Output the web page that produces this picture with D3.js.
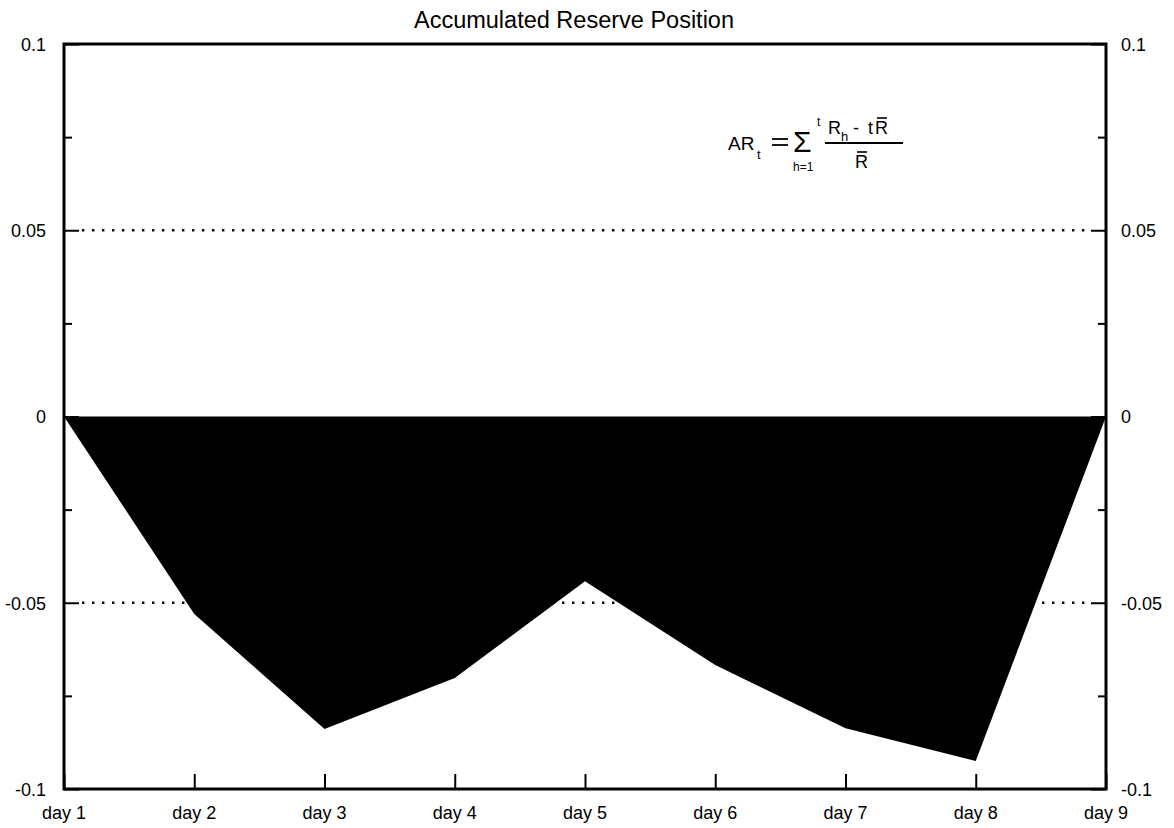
<!DOCTYPE html>
<html>
<head>
<meta charset="utf-8">
<script src="https://cdn.jsdelivr.net/npm/d3@7"></script>
<style>
  html, body { margin: 0; padding: 0; background: #fff; }
  svg { display: block; }
  text { font-family: "Liberation Sans", Arial, Helvetica, sans-serif; fill: #000; }
</style>
</head>
<body>
<svg id="chart" width="1174" height="828"></svg>
<script>
const title = "Accumulated Reserve Position";
const days = ["day 1", "day 2", "day 3", "day 4", "day 5", "day 6", "day 7", "day 8", "day 9"];
const reserve = [0, -0.053, -0.0839, -0.0702, -0.0442, -0.0667, -0.0837, -0.0925, 0];
const majorTicks = [0.1, 0.05, 0, -0.05, -0.1];
const majorTickLabels = ["0.1", "0.05", "0", "-0.05", "-0.1"];
const minorTicks = [0.075, 0.025, -0.025, -0.075];
const gridValues = [0.05, -0.05];

const svg = d3.select("#chart");
const L = 64, R = 1106, T = 44, B = 789;

const x = d3.scalePoint().domain(days).range([L, R]);
const y = d3.scaleLinear().domain([-0.1, 0.1]).range([B, T]);

// dotted grid lines
svg.append("g").selectAll("line").data(gridValues).join("line")
  .attr("x1", L + 18).attr("x2", R - 18)
  .attr("y1", d => y(d)).attr("y2", d => y(d))
  .attr("stroke", "#000").attr("stroke-width", 2.4)
  .attr("stroke-dasharray", "2.4,7.6");

// filled area
const area = d3.area()
  .x((d, i) => x(days[i]))
  .y0(y(0))
  .y1(d => y(d));
svg.append("path").datum(reserve)
  .attr("d", area)
  .attr("fill", "#000");

// axes: left / right major and minor ticks (inward)
const leftAxisMajor = d3.axisRight(y).tickValues(majorTicks).tickSize(15).tickFormat("");
const leftAxisMinor = d3.axisRight(y).tickValues(minorTicks).tickSize(8).tickFormat("");
const rightAxisMajor = d3.axisLeft(y).tickValues(majorTicks).tickSize(15).tickFormat("");
const rightAxisMinor = d3.axisLeft(y).tickValues(minorTicks).tickSize(8).tickFormat("");
const bottomAxis = d3.axisTop(x).tickSize(15).tickFormat("");

function styleAxis(g) {
  g.select(".domain").remove();
  g.selectAll(".tick line").attr("stroke", "#000").attr("stroke-width", 2);
}
svg.append("g").attr("transform", `translate(${L},0)`).call(leftAxisMajor).call(styleAxis);
svg.append("g").attr("transform", `translate(${L},0)`).call(leftAxisMinor).call(styleAxis);
svg.append("g").attr("transform", `translate(${R},0)`).call(rightAxisMajor).call(styleAxis);
svg.append("g").attr("transform", `translate(${R},0)`).call(rightAxisMinor).call(styleAxis);
svg.append("g").attr("transform", `translate(0,${B})`).call(bottomAxis).call(styleAxis);

// frame
svg.append("rect")
  .attr("x", L).attr("y", T).attr("width", R - L).attr("height", B - T)
  .attr("fill", "none").attr("stroke", "#000").attr("stroke-width", 3);

// tick labels
svg.append("g").selectAll("text").data(majorTicks).join("text")
  .attr("x", L - 18).attr("y", d => y(d)).attr("dy", "0.38em")
  .attr("text-anchor", "end").attr("font-size", 18)
  .text((d, i) => majorTickLabels[i]);
svg.append("g").selectAll("text").data(majorTicks).join("text")
  .attr("x", R + 15).attr("y", d => y(d)).attr("dy", "0.38em")
  .attr("text-anchor", "start").attr("font-size", 18)
  .text((d, i) => majorTickLabels[i]);
svg.append("g").selectAll("text").data(days).join("text")
  .attr("x", d => x(d)).attr("y", 819)
  .attr("text-anchor", "middle").attr("font-size", 18)
  .text(d => d);

// title
svg.append("text").attr("x", 574).attr("y", 28)
  .attr("text-anchor", "middle").attr("font-size", 23.5)
  .text(title);

// formula annotation
const f = svg.append("g");
f.append("text").attr("x", 728).attr("y", 150).attr("font-size", 19).text("AR");
f.append("text").attr("x", 757).attr("y", 159).attr("font-size", 13).text("t");
f.append("line").attr("x1", 772).attr("x2", 788).attr("y1", 139).attr("y2", 139)
  .attr("stroke", "#000").attr("stroke-width", 1.8);
f.append("line").attr("x1", 772).attr("x2", 788).attr("y1", 145).attr("y2", 145)
  .attr("stroke", "#000").attr("stroke-width", 1.8);
f.append("text").attr("x", 793).attr("y", 152).attr("font-size", 30).text("Σ");
f.append("text").attr("x", 817).attr("y", 126).attr("font-size", 12).text("t");
f.append("text").attr("x", 793).attr("y", 171).attr("font-size", 12).text("h=1");
f.append("line").attr("x1", 825).attr("x2", 903).attr("y1", 143).attr("y2", 143)
  .attr("stroke", "#000").attr("stroke-width", 2);
f.append("text").attr("x", 828).attr("y", 134).attr("font-size", 18).text("R");
f.append("text").attr("x", 841).attr("y", 141).attr("font-size", 13).text("h");
f.append("text").attr("x", 853).attr("y", 134).attr("font-size", 18).text("-");
f.append("text").attr("x", 868).attr("y", 134).attr("font-size", 18).text("t");
f.append("text").attr("x", 875).attr("y", 134).attr("font-size", 18).text("R");
f.append("line").attr("x1", 877).attr("x2", 887).attr("y1", 118).attr("y2", 118)
  .attr("stroke", "#000").attr("stroke-width", 1.6);
f.append("text").attr("x", 855).attr("y", 168).attr("font-size", 18).text("R");
f.append("line").attr("x1", 857).attr("x2", 867).attr("y1", 152).attr("y2", 152)
  .attr("stroke", "#000").attr("stroke-width", 1.6);
</script>
</body>
</html>
